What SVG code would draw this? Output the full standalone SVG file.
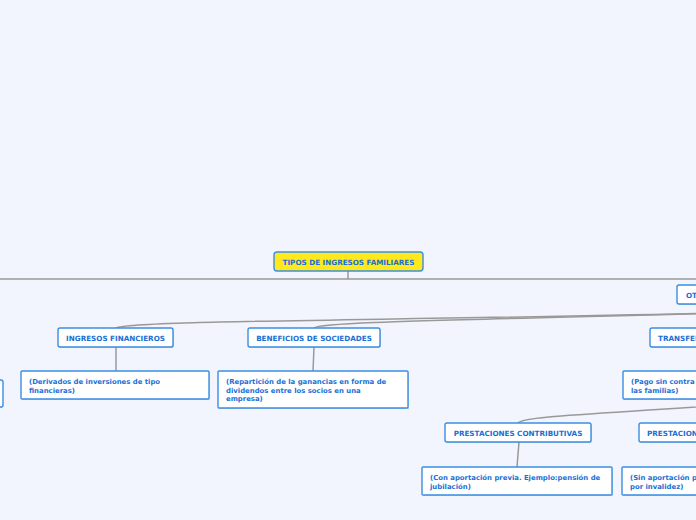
<svg xmlns="http://www.w3.org/2000/svg" width="696" height="520" viewBox="0 0 696 520">
<style>
.bg{fill:#f2f5fd}
.box{fill:#ffffff;stroke:#3a8ee3;stroke-width:1.4}
.sh{fill:#9aa3b3;opacity:0.45}
.root{fill:#ffe81c;stroke:#3a8ee3;stroke-width:1.4}
.t{font-family:"DejaVu Sans",Verdana,sans-serif;font-weight:bold;font-size:7.2px;fill:#1a6fd6}
.tc{text-anchor:middle}
.d{font-size:6.9px}
.c{fill:none;stroke:#999999;stroke-width:1.5}
</style>
<rect class="bg" x="0" y="0" width="696" height="520"/>
<g id="connectors">
<path class="c" d="M348,271 L348,279 M0,279 L696,279"/>
<path class="c" d="M116,328 C130,320 400,321 760,312"/>
<path class="c" d="M314,328 C320,322 420,321 760,312"/>
<path class="c" d="M116,347 L116,371"/>
<path class="c" d="M314,347 L313,371"/>
<path class="c" d="M518,423 C522,416 600,414 740,404"/>
<path class="c" d="M519,442 L517,467"/>
</g>
<g id="root">
<rect class="root" x="274" y="252" width="149" height="19" rx="3"/>
<text class="t tc" x="348.5" y="264.5">TIPOS DE INGRESOS FAMILIARES</text>
</g>
<g id="otros">
<rect class="sh" x="678" y="286" width="40" height="19" rx="2"/>
<rect class="box" x="677" y="285" width="40" height="19" rx="2"/>
<text class="t" x="686" y="297.5">OT</text>
</g>
<g id="ingresos-financieros">
<rect class="sh" x="59" y="329" width="115" height="19" rx="2"/>
<rect class="box" x="58" y="328" width="115" height="19" rx="2"/>
<text class="t tc" x="115.5" y="340.5">INGRESOS FINANCIEROS</text>
</g>
<g id="beneficios">
<rect class="sh" x="249" y="329" width="132" height="19" rx="2"/>
<rect class="box" x="248" y="328" width="132" height="19" rx="2"/>
<text class="t tc" x="314" y="340.5">BENEFICIOS DE SOCIEDADES</text>
</g>
<g id="transferencias">
<rect class="sh" x="651" y="329" width="70" height="19" rx="2"/>
<rect class="box" x="650" y="328" width="70" height="19" rx="2"/>
<text class="t" x="658" y="340.5">TRANSFER</text>
</g>
<g id="left-box">
<rect class="sh" x="-19" y="381" width="22" height="27" rx="2"/>
<rect class="box" x="-20" y="380" width="23" height="27" rx="2"/>
</g>
<g id="desc-financieros">
<rect class="sh" x="22" y="372" width="188" height="28" rx="1"/>
<rect class="box" x="21" y="371" width="188" height="28" rx="1"/>
<text class="t d" x="29" y="384">(Derivados de inversiones de tipo</text>
<text class="t d" x="29" y="392.5">financieras)</text>
</g>
<g id="desc-beneficios">
<rect class="sh" x="219" y="372" width="190" height="37" rx="1"/>
<rect class="box" x="218" y="371" width="190" height="37" rx="1"/>
<text class="t d" x="226" y="384">(Repartición de la ganancias en forma de</text>
<text class="t d" x="226" y="392.5">dividendos entre los socios en una</text>
<text class="t d" x="226" y="401">empresa)</text>
</g>
<g id="desc-transferencias">
<rect class="sh" x="624" y="372" width="90" height="28" rx="1"/>
<rect class="box" x="623" y="371" width="90" height="28" rx="1"/>
<text class="t d" x="631" y="384">(Pago sin contra</text>
<text class="t d" x="631" y="392.5">las familias)</text>
</g>
<g id="prestaciones-contributivas">
<rect class="sh" x="446" y="424" width="146" height="19" rx="2"/>
<rect class="box" x="445" y="423" width="146" height="19" rx="2"/>
<text class="t tc" x="518" y="435.5">PRESTACIONES CONTRIBUTIVAS</text>
</g>
<g id="prestaciones-no">
<rect class="sh" x="640" y="424" width="80" height="19" rx="2"/>
<rect class="box" x="639" y="423" width="80" height="19" rx="2"/>
<text class="t" x="647" y="435.5">PRESTACION</text>
</g>
<g id="desc-contributivas">
<rect class="sh" x="423" y="468" width="190" height="28" rx="1"/>
<rect class="box" x="422" y="467" width="190" height="28" rx="1"/>
<text class="t d" x="430" y="480">(Con aportación previa. Ejemplo:pensión de</text>
<text class="t d" x="430" y="488.5">jubilación)</text>
</g>
<g id="desc-no-contributivas">
<rect class="sh" x="623" y="468" width="90" height="28" rx="1"/>
<rect class="box" x="622" y="467" width="90" height="28" rx="1"/>
<text class="t d" x="630" y="480">(Sin aportación p</text>
<text class="t d" x="630" y="488.5">por invalidez)</text>
</g>
</svg>
